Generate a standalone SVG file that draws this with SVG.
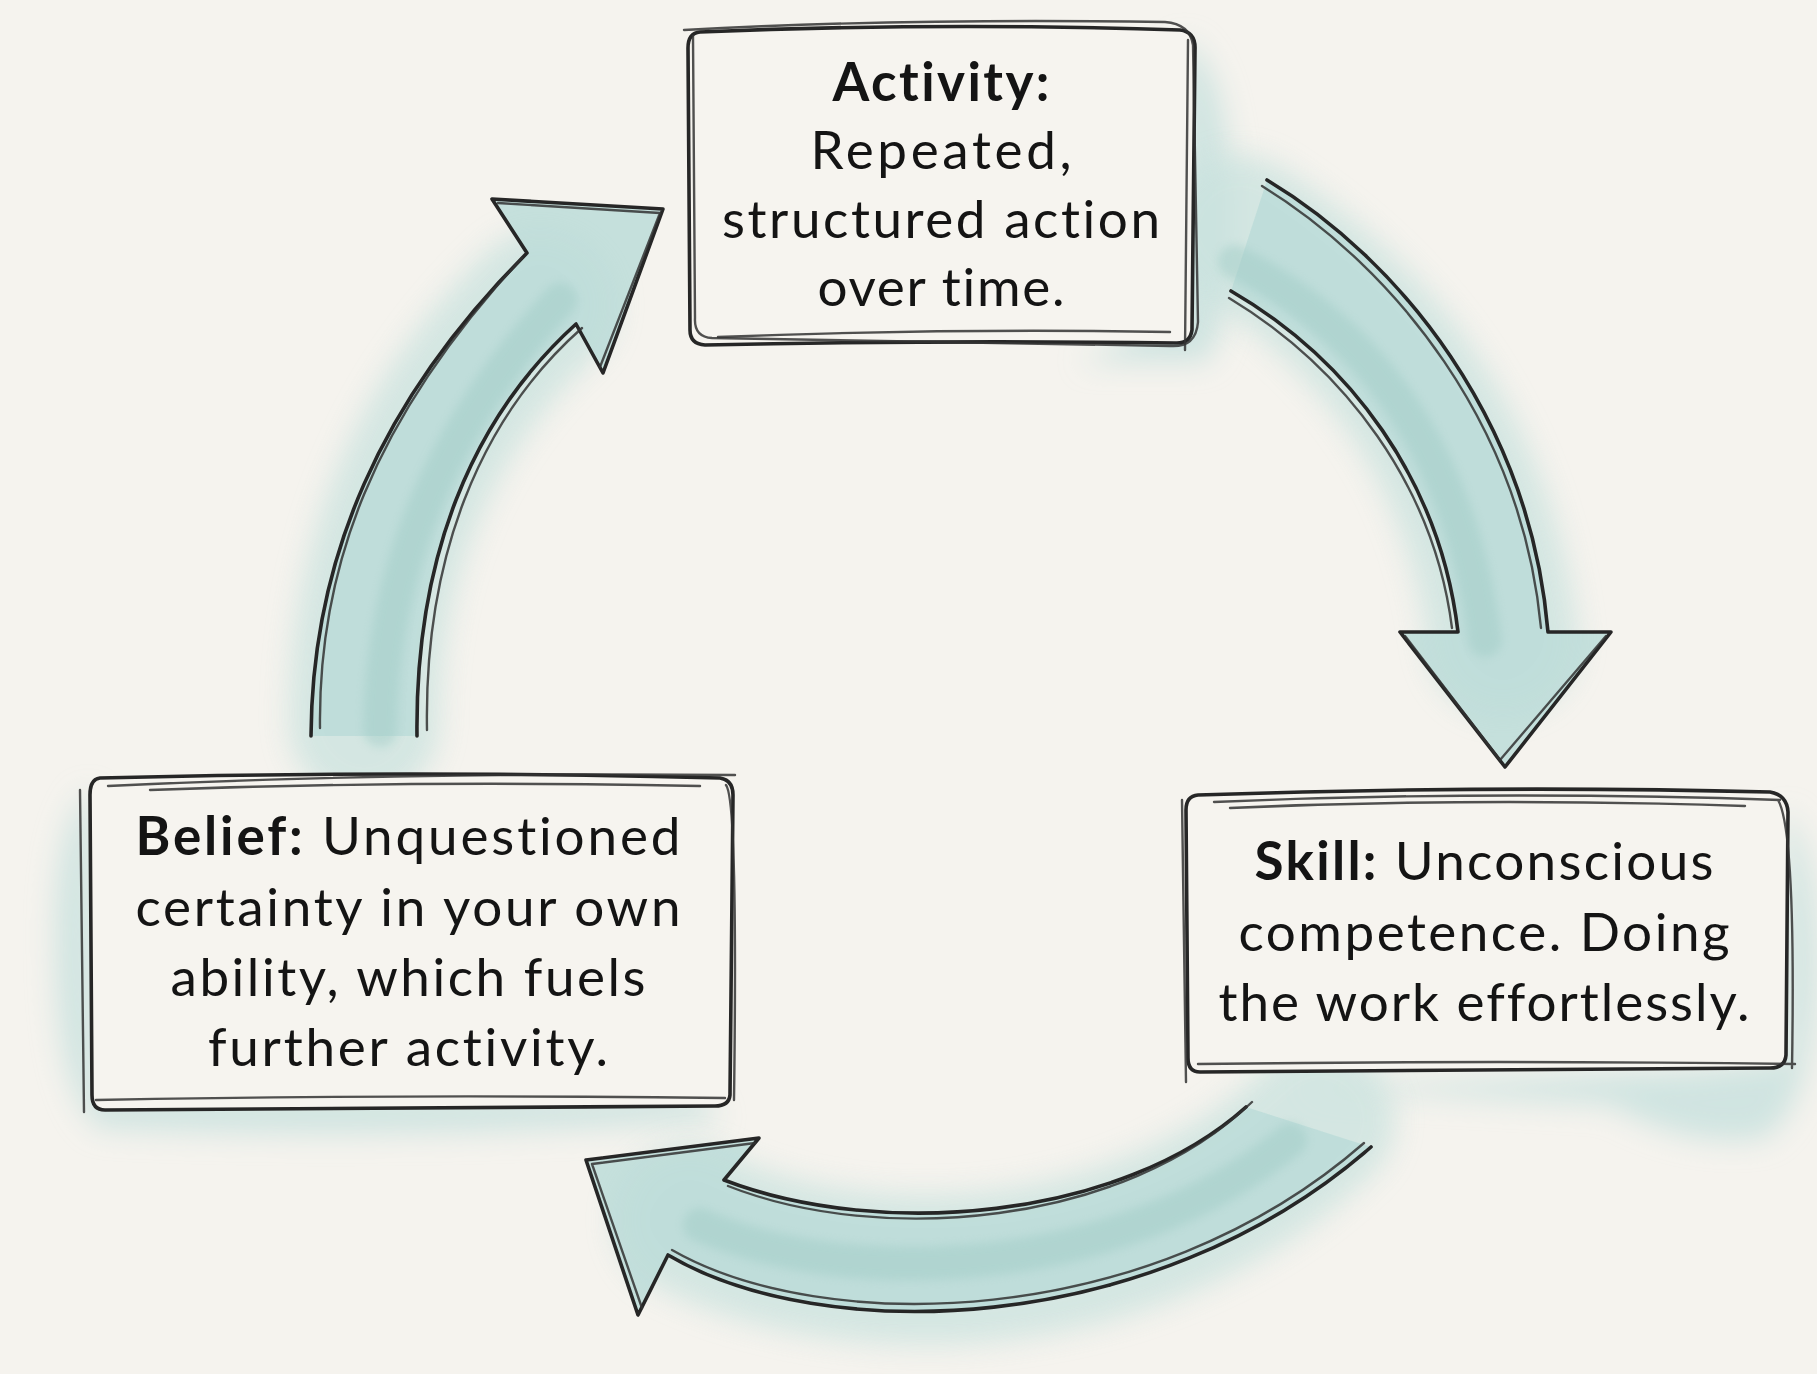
<svg xmlns="http://www.w3.org/2000/svg" width="1817" height="1374" viewBox="0 0 1817 1374">
  <defs>
    <filter id="soft" filterUnits="userSpaceOnUse" x="-200" y="-200" width="2217" height="1774">
      <feGaussianBlur stdDeviation="14"/>
    </filter>
    <filter id="soft2" filterUnits="userSpaceOnUse" x="-200" y="-200" width="2217" height="1774">
      <feGaussianBlur stdDeviation="5"/>
    </filter>
    <style>
      .bg { fill: #f5f3ee; }
      .halo { fill: none; stroke: #c9e2de; stroke-linecap: round; opacity: 0.75; }
      .band { fill: none; stroke: #9ecbc5; stroke-linecap: round; opacity: 0.45; }
      .afill { fill: #bcdcd8; opacity: 0.85; }
      .ink { fill: none; stroke: #262626; stroke-width: 3.6; stroke-linecap: round; stroke-linejoin: round; }
      .ink2 { fill: none; stroke: #333333; stroke-width: 2.4; stroke-linecap: round; stroke-linejoin: round; opacity: 0.85; }
      .boxfill { fill: #f6f4ef; }
      .wash { fill: #c9e2de; opacity: 0.85; }
      .t { font-family: Lato, "Open Sans", "Liberation Sans", sans-serif; font-size: 53px; fill: #141414; text-anchor: middle; font-variant-ligatures: none; font-feature-settings: "liga" 0, "clig" 0; }
      .b { font-weight: 700; }
    </style>
  </defs>

  <rect class="bg" x="0" y="0" width="1817" height="1374"/>

  <!-- watercolor washes behind boxes -->
  <g id="washes" filter="url(#soft)">
    <path class="wash" d="M 1180 40 Q 1228 60 1232 200 Q 1234 330 1205 362 L 1080 362 Q 1150 330 1180 300 Z"/>
    <path class="wash" d="M 92 790 Q 52 820 56 960 Q 58 1095 100 1128 Q 400 1142 720 1120 L 700 1095 L 100 1095 Z"/>
    <path class="wash" d="M 1785 810 Q 1817 850 1817 960 Q 1817 1100 1765 1138 Q 1690 1150 1610 1105 L 1300 1088 L 1700 1070 L 1785 1060 Z"/>
  </g>

  <g id="connectors">
    <!-- Belief -> Activity (left arrow) -->
    <g id="arrow-left">
      <path class="halo" filter="url(#soft)" stroke-width="150" d="M 364 725 C 364 560 420 420 540 305"/>
      <path class="afill" d="M 311 736 C 312 560 380 400 527 253 L 492 199 L 663 209 L 603 373 L 576 324 C 470 420 415 560 417 736 Z"/>
      <path class="band" filter="url(#soft2)" stroke-width="34" d="M 380 730 C 382 570 440 430 560 300"/>
      <path class="ink" d="M 311 736 C 312 560 380 400 527 253 L 492 199 L 663 209 L 603 373 L 576 324 C 470 420 415 560 417 736"/>
      <path class="ink2" d="M 320 728 C 318 570 372 420 522 258 M 498 203 L 660 213 L 600 367 M 582 328 C 478 420 424 560 427 730"/>
    </g>
    <!-- Activity -> Skill (right arrow) -->
    <g id="arrow-right">
      <path class="halo" filter="url(#soft)" stroke-width="150" d="M 1240 230 C 1380 320 1480 450 1503 640"/>
      <path class="afill" d="M 1267 180 C 1400 260 1530 420 1548 632 L 1611 632 L 1505 767 L 1400 632 L 1458 632 C 1440 480 1350 360 1231 291 Z"/>
      <path class="band" filter="url(#soft2)" stroke-width="34" d="M 1235 262 C 1370 330 1460 450 1485 640"/>
      <path class="ink" d="M 1267 180 C 1400 260 1530 420 1548 632 L 1611 632 L 1505 767 L 1400 632 L 1458 632 C 1440 480 1350 360 1231 291"/>
      <path class="ink2" d="M 1262 186 C 1395 268 1522 425 1541 628 M 1606 636 L 1500 760 L 1405 636 M 1452 628 C 1434 486 1345 368 1229 298"/>
    </g>
    <!-- Skill -> Belief (bottom arrow) -->
    <g id="arrow-bottom">
      <path class="halo" filter="url(#soft)" stroke-width="150" d="M 1320 1120 C 1140 1295 850 1300 690 1220"/>
      <path class="afill" d="M 1371 1147 C 1150 1340 820 1345 668 1255 L 638 1315 L 586 1160 L 759 1138 L 724 1180 C 880 1240 1120 1220 1246 1107 Z"/>
      <path class="band" filter="url(#soft2)" stroke-width="34" d="M 1290 1140 C 1120 1280 850 1290 700 1225"/>
      <path class="ink" d="M 1371 1147 C 1150 1340 820 1345 668 1255 L 638 1315 L 586 1160 L 759 1138 L 724 1180 C 880 1240 1120 1220 1246 1107"/>
      <path class="ink2" d="M 1364 1143 C 1148 1332 822 1336 672 1250 M 642 1308 L 592 1164 L 755 1143 M 728 1186 C 880 1246 1124 1226 1252 1102"/>
    </g>
  </g>

  <!-- Activity node -->
  <g id="node-activity">
    <path class="boxfill" d="M 700 32 Q 940 22 1180 30 Q 1196 32 1195 50 L 1192 330 Q 1190 344 1175 343 Q 940 340 705 345 Q 690 344 690 330 L 688 48 Q 688 33 700 32 Z"/>
    <path class="ink" d="M 700 32 Q 940 22 1180 30 Q 1196 32 1195 50 L 1192 330 Q 1190 344 1175 343 Q 940 340 705 345 Q 690 344 690 330 L 688 48 Q 688 33 700 32 Z"/>
    <path class="ink2" d="M 684 30 Q 900 18 1165 22 Q 1190 24 1193 45 L 1198 322 Q 1196 348 1170 346 L 712 338 Q 694 337 695 318 L 693 36"/>
    <path class="ink2" d="M 718 337 Q 950 328 1170 332 M 1188 40 L 1185 350"/>
    <text class="t b" x="941" y="101" textLength="217">Activity:</text>
    <text class="t" x="941" y="169" textLength="261">Repeated,</text>
    <text class="t" x="941" y="238" textLength="438">structured action</text>
    <text class="t" x="941" y="306" textLength="247">over time.</text>
  </g>

  <!-- Belief node -->
  <g id="node-belief">
    <path class="boxfill" d="M 100 778 Q 410 770 720 778 Q 733 780 733 795 L 730 1095 Q 729 1106 715 1106 L 105 1110 Q 92 1110 92 1095 L 90 795 Q 90 779 100 778 Z"/>
    <path class="ink" d="M 100 778 Q 410 770 720 778 Q 733 780 733 795 L 730 1095 Q 729 1106 715 1106 L 105 1110 Q 92 1110 92 1095 L 90 795 Q 90 779 100 778 Z"/>
    <path class="ink2" d="M 108 786 Q 400 772 735 775 M 80 790 L 84 1112 M 96 1100 Q 400 1094 725 1098 M 726 785 Q 738 800 734 1100"/>
    <path class="ink2" d="M 150 790 Q 420 780 700 786"/>
    <text class="t" x="408" y="855" textLength="545"><tspan class="b">Belief:</tspan> Unquestioned</text>
    <text class="t" x="408" y="926" textLength="545">certainty in your own</text>
    <text class="t" x="408" y="996" textLength="475">ability, which fuels</text>
    <text class="t" x="408" y="1066" textLength="400">further activity.</text>
  </g>

  <!-- Skill node -->
  <g id="node-skill">
    <path class="boxfill" d="M 1198 795 Q 1490 785 1770 792 Q 1787 795 1788 812 L 1786 1055 Q 1785 1068 1770 1068 L 1200 1072 Q 1188 1072 1188 1058 L 1186 810 Q 1186 796 1198 795 Z"/>
    <path class="ink" d="M 1198 795 Q 1490 785 1770 792 Q 1787 795 1788 812 L 1786 1055 Q 1785 1068 1770 1068 L 1200 1072 Q 1188 1072 1188 1058 L 1186 810 Q 1186 796 1198 795 Z"/>
    <path class="ink2" d="M 1214 802 Q 1490 790 1780 800 M 1182 800 L 1186 1082 M 1198 1064 Q 1500 1060 1795 1064 M 1778 800 Q 1796 830 1792 1068"/>
    <path class="ink2" d="M 1230 808 Q 1480 797 1745 806"/>
    <text class="t" x="1484" y="880" textLength="459"><tspan class="b">Skill:</tspan> Unconscious</text>
    <text class="t" x="1484" y="951" textLength="491">competence. Doing</text>
    <text class="t" x="1484" y="1021" textLength="531">the work effortlessly.</text>
  </g>
</svg>
